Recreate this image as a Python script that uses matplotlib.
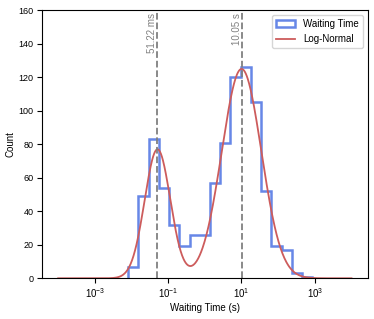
import numpy as np
import matplotlib
matplotlib.use("Agg")
import matplotlib.pyplot as plt

# ---- data ----
bin_log_min, bin_log_max, n_bins = -2.09, 2.93, 18
counts = [7, 49, 83, 54, 32, 19, 26, 26, 57, 81, 120, 126, 105, 52, 19, 17, 3, 1]

# log-normal mixture fit (centres in seconds, widths in decades, peak heights in counts)
fit_centers = [0.05122, 10.05]
fit_sigmas = [0.35, 0.54]
fit_peaks = [77, 125]
marker_labels = ["51.22 ms", "10.05 s"]
xticks = [1e-3, 1e-1, 1e1, 1e3]
yticks = [0, 20, 40, 60, 80, 100, 120, 140, 160]

plt.rcParams['font.family'] = ['Liberation Sans', 'DejaVu Sans']
fs = 7

fig = plt.figure(figsize=(3.74, 3.19), dpi=100)
ax = fig.add_axes([0.1123, 0.1276, 0.8707, 0.8401])

edges = np.logspace(bin_log_min, bin_log_max, n_bins + 1)
ax.hist(edges[:-1] * 1.0001, bins=edges, weights=counts, histtype='step',
        color='#4169E1', alpha=0.8, linewidth=1.8, label='Waiting Time')

xs = np.logspace(-4, 4, 600)
u = np.log10(xs)
curve = np.zeros_like(xs)
for c, s, p in zip(fit_centers, fit_sigmas, fit_peaks):
    curve += p * np.exp(-(u - np.log10(c)) ** 2 / (2 * s ** 2))
ax.plot(xs, curve, color='#CD5C5C', linewidth=1.3, label='Log-Normal')

for c, lab in zip(fit_centers, marker_labels):
    ax.axvline(c, color='gray', linestyle='--', linewidth=1.3)
    ax.text(c, 0.99, lab, transform=ax.get_xaxis_transform(), rotation=90,
            ha='right', va='top', color='gray', fontsize=fs)

ax.set_xscale('log')
ax.set_xlim(10 ** -4.44, 10 ** 4.44)
ax.set_ylim(0, 160)
ax.set_xticks(xticks)
ax.xaxis.set_minor_locator(matplotlib.ticker.NullLocator())
ax.set_yticks(yticks)
ax.tick_params(length=3.5, width=0.8, pad=2.5)
ax.tick_params(axis='x', labelsize=7)
ax.tick_params(axis='y', labelsize=6.5)
ax.set_xlabel('Waiting Time (s)', fontsize=fs, labelpad=1.5)
ax.set_ylabel('Count', fontsize=fs, labelpad=2.5)
ax.legend(loc='upper right', fontsize=fs, frameon=True, fancybox=True)

fig.savefig('out.png', dpi=100)
